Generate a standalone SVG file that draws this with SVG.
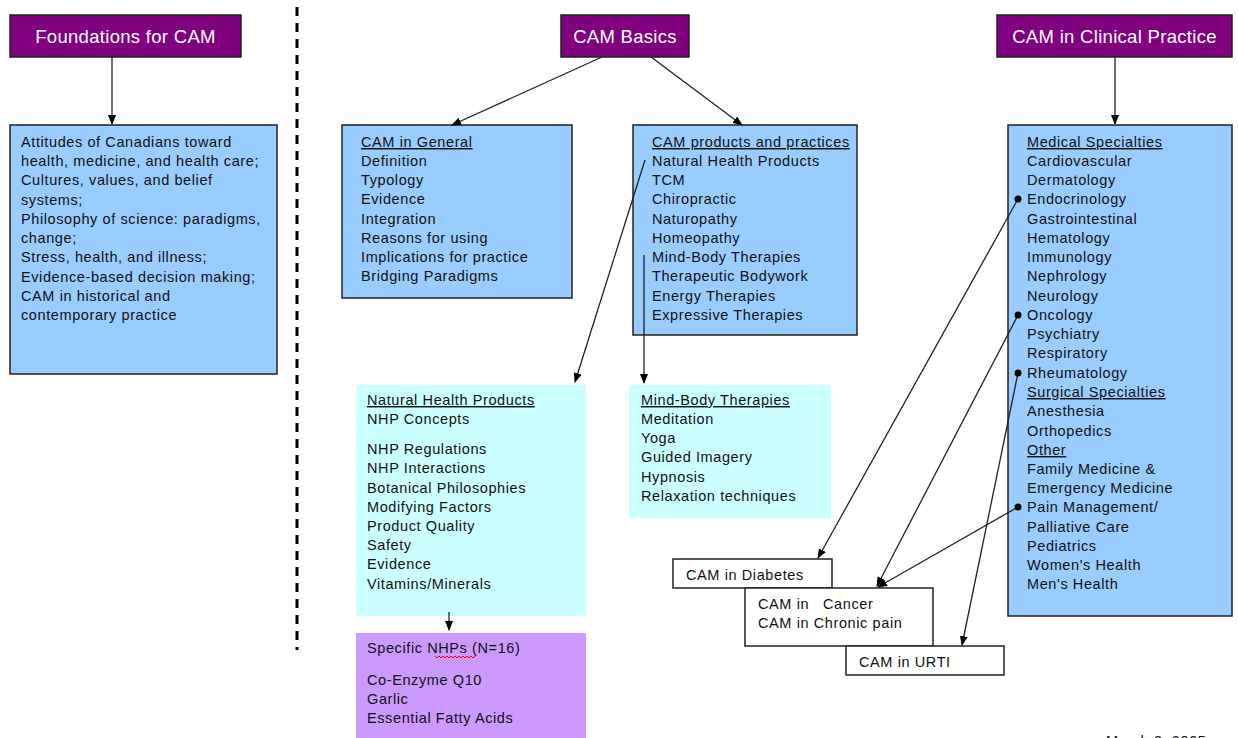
<svg xmlns="http://www.w3.org/2000/svg" width="1238" height="738" viewBox="0 0 1238 738">
<defs>
<marker id="ah" markerWidth="10" markerHeight="8" refX="9" refY="4" orient="auto" markerUnits="userSpaceOnUse">
<path d="M0,0 L10,4 L0,8 Z" fill="#000"/>
</marker>
<style>
.title{fill:#800080;stroke:#222;stroke-width:1.5}
.ttxt{font-family:"Liberation Sans",Arial,sans-serif;font-size:18.5px;fill:#fff;text-anchor:middle;letter-spacing:0.3px}
.blue{fill:#99CCFF;stroke:#222;stroke-width:1.5}
.cyan{fill:#CCFFFF}
.lav{fill:#CC99FF}
.wbox{fill:#fff;stroke:#222;stroke-width:1.5}
.t{font-family:"Liberation Sans",Arial,sans-serif;font-size:14.5px;fill:#111;letter-spacing:0.6px}
.u{text-decoration:underline}
.c{stroke:#222;stroke-width:1.3;fill:none}
</style>
</defs>
<rect width="1238" height="738" fill="#fff"/>

<line x1="297" y1="7" x2="297" y2="650" stroke="#000" stroke-width="3" stroke-dasharray="9 7"/>

<g id="foundations">
<rect class="title" x="10" y="15" width="231" height="42"/>
<text class="ttxt" x="125.5" y="43">Foundations for CAM</text>
</g>
<g id="foundations-content">
<rect class="blue" x="10" y="125" width="267" height="249"/>
<text class="t" x="21" y="147">Attitudes of Canadians toward</text>
<text class="t" x="21" y="166">health, medicine, and health care;</text>
<text class="t" x="21" y="185">Cultures, values, and belief</text>
<text class="t" x="21" y="205">systems;</text>
<text class="t" x="21" y="224">Philosophy of science: paradigms,</text>
<text class="t" x="21" y="243">change;</text>
<text class="t" x="21" y="262">Stress, health, and illness;</text>
<text class="t" x="21" y="282">Evidence-based decision making;</text>
<text class="t" x="21" y="301">CAM in historical and</text>
<text class="t" x="21" y="320">contemporary practice</text>
</g>

<g id="cam-basics">
<rect class="title" x="561" y="15" width="128" height="42"/>
<text class="ttxt" x="625" y="43">CAM Basics</text>
</g>
<g id="cam-general">
<rect class="blue" x="342" y="125" width="230" height="173"/>
<text class="t u" x="361" y="147">CAM in General</text>
<text class="t" x="361" y="166">Definition</text>
<text class="t" x="361" y="185">Typology</text>
<text class="t" x="361" y="204">Evidence</text>
<text class="t" x="361" y="224">Integration</text>
<text class="t" x="361" y="243">Reasons for using</text>
<text class="t" x="361" y="262">Implications for practice</text>
<text class="t" x="361" y="281">Bridging Paradigms</text>
</g>
<g id="cam-products">
<rect class="blue" x="633" y="125" width="224" height="210"/>
<text class="t u" x="652" y="147">CAM products and practices</text>
<text class="t" x="652" y="166">Natural Health Products</text>
<text class="t" x="652" y="185">TCM</text>
<text class="t" x="652" y="204">Chiropractic</text>
<text class="t" x="652" y="224">Naturopathy</text>
<text class="t" x="652" y="243">Homeopathy</text>
<text class="t" x="652" y="262">Mind-Body Therapies</text>
<text class="t" x="652" y="281">Therapeutic Bodywork</text>
<text class="t" x="652" y="301">Energy Therapies</text>
<text class="t" x="652" y="320">Expressive Therapies</text>
</g>
<g id="nhp">
<rect class="cyan" x="356" y="385" width="230" height="231"/>
<text class="t u" x="367" y="405">Natural Health Products</text>
<text class="t" x="367" y="424">NHP Concepts</text>
<text class="t" x="367" y="454">NHP Regulations</text>
<text class="t" x="367" y="473">NHP Interactions</text>
<text class="t" x="367" y="493">Botanical Philosophies</text>
<text class="t" x="367" y="512">Modifying Factors</text>
<text class="t" x="367" y="531">Product Quality</text>
<text class="t" x="367" y="550">Safety</text>
<text class="t" x="367" y="569">Evidence</text>
<text class="t" x="367" y="589">Vitamins/Minerals</text>
</g>
<g id="specific-nhps">
<rect class="lav" x="356" y="633" width="230" height="107"/>
<text class="t" x="367" y="653">Specific NHPs (N=16)</text>
<polyline points="435,656 437,658 439,656 441,658 443,656 445,658 447,656 449,658 451,656 453,658 455,656 457,658 459,656 461,658 463,656 465,658 467,656 469,658 471,656 473,658 475,656" fill="none" stroke="#e00" stroke-width="1"/>
<text class="t" x="367" y="685">Co-Enzyme Q10</text>
<text class="t" x="367" y="704">Garlic</text>
<text class="t" x="367" y="723">Essential Fatty Acids</text>
</g>
<g id="mind-body">
<rect class="cyan" x="629" y="385" width="202" height="133"/>
<text class="t u" x="641" y="405">Mind-Body Therapies</text>
<text class="t" x="641" y="424">Meditation</text>
<text class="t" x="641" y="443">Yoga</text>
<text class="t" x="641" y="462">Guided Imagery</text>
<text class="t" x="641" y="482">Hypnosis</text>
<text class="t" x="641" y="501">Relaxation techniques</text>
</g>

<g id="clinical-practice">
<rect class="title" x="997" y="15" width="235" height="42"/>
<text class="ttxt" x="1114.5" y="43">CAM in Clinical Practice</text>
</g>
<g id="clinical-content">
<rect class="blue" x="1008" y="125" width="224" height="491"/>
<text class="t u" x="1027" y="147">Medical Specialties</text>
<text class="t" x="1027" y="166">Cardiovascular</text>
<text class="t" x="1027" y="185">Dermatology</text>
<text class="t" x="1027" y="204">Endocrinology</text>
<text class="t" x="1027" y="224">Gastrointestinal</text>
<text class="t" x="1027" y="243">Hematology</text>
<text class="t" x="1027" y="262">Immunology</text>
<text class="t" x="1027" y="281">Nephrology</text>
<text class="t" x="1027" y="301">Neurology</text>
<text class="t" x="1027" y="320">Oncology</text>
<text class="t" x="1027" y="339">Psychiatry</text>
<text class="t" x="1027" y="358">Respiratory</text>
<text class="t" x="1027" y="378">Rheumatology</text>
<text class="t u" x="1027" y="397">Surgical Specialties</text>
<text class="t" x="1027" y="416">Anesthesia</text>
<text class="t" x="1027" y="436">Orthopedics</text>
<text class="t u" x="1027" y="455">Other</text>
<text class="t" x="1027" y="474">Family Medicine &amp;</text>
<text class="t" x="1027" y="493">Emergency Medicine</text>
<text class="t" x="1027" y="512">Pain Management/</text>
<text class="t" x="1027" y="532">Palliative Care</text>
<text class="t" x="1027" y="551">Pediatrics</text>
<text class="t" x="1027" y="570">Women's Health</text>
<text class="t" x="1027" y="589">Men's Health</text>
</g>
<g id="cam-diabetes">
<rect class="wbox" x="673" y="559" width="159" height="29"/>
<text class="t" x="686" y="580">CAM in Diabetes</text>
</g>
<g id="cam-cancer">
<rect class="wbox" x="745" y="588" width="188" height="58"/>
<text class="t" x="758" y="609" xml:space="preserve">CAM in   Cancer</text>
<text class="t" x="758" y="628">CAM in Chronic pain</text>
</g>
<g id="cam-urti">
<rect class="wbox" x="846" y="646" width="158" height="29"/>
<text class="t" x="859" y="667">CAM in URTI</text>
</g>

<g id="connectors">
<line class="c" x1="112" y1="57" x2="112" y2="124" marker-end="url(#ah)"/>
<line class="c" x1="602" y1="57" x2="452" y2="125" marker-end="url(#ah)"/>
<line class="c" x1="651" y1="57" x2="742" y2="125" marker-end="url(#ah)"/>
<line class="c" x1="1115" y1="57" x2="1115" y2="124" marker-end="url(#ah)"/>
<line class="c" x1="645" y1="160" x2="575" y2="382" marker-end="url(#ah)"/>
<line class="c" x1="644" y1="255" x2="644" y2="383" marker-end="url(#ah)"/>
<line class="c" x1="449" y1="612" x2="449" y2="630" marker-end="url(#ah)"/>
<line class="c" x1="1018" y1="199" x2="818" y2="558" marker-end="url(#ah)"/>
<line class="c" x1="1018" y1="315" x2="877" y2="586" marker-end="url(#ah)"/>
<line class="c" x1="1018" y1="507" x2="878" y2="587" marker-end="url(#ah)"/>
<line class="c" x1="1018" y1="373" x2="962" y2="645" marker-end="url(#ah)"/>
<circle cx="1018" cy="199" r="3.5" fill="#000"/>
<circle cx="1018" cy="315" r="3.5" fill="#000"/>
<circle cx="1018" cy="373" r="3.5" fill="#000"/>
<circle cx="1018" cy="507" r="3.5" fill="#000"/>
</g>

<text class="t" x="1106" y="746">March 3, 2005</text>
</svg>
